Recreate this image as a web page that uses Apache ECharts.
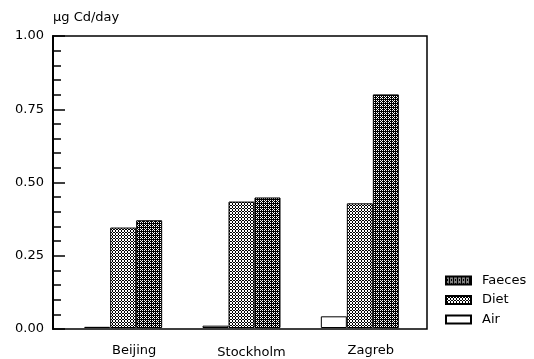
<!DOCTYPE html>
<html>
<head>
<meta charset="utf-8">
<script src="https://cdn.jsdelivr.net/npm/echarts@6/dist/echarts.min.js"></script>
<style>html,body{margin:0;padding:0;background:#fff;}#c{width:534px;height:359px;}</style>
</head>
<body>
<div id="c"></div>
<script>
var categories = ['Beijing', 'Stockholm', 'Zagreb'];
var airValues = [0.004, 0.008, 0.04];
var dietValues = [0.344, 0.433, 0.427];
var faecesValues = [0.369, 0.447, 0.80];
var yTicks = [0, 0.25, 0.5, 0.75, 1.0];
var unitLabel = 'µg Cd/day';

function makePattern(rows) {
  var h = rows.length, w = rows[0].length;
  var cv = document.createElement('canvas');
  cv.width = w; cv.height = h;
  var ctx = cv.getContext('2d');
  ctx.fillStyle = '#fff'; ctx.fillRect(0, 0, w, h);
  ctx.fillStyle = '#000';
  for (var y = 0; y < h; y++) for (var x = 0; x < w; x++) if (rows[y][x] === '#') ctx.fillRect(x, y, 1, 1);
  return { image: cv, repeat: 'repeat' };
}
var dietPattern = makePattern(['.#.', '#.#', '.#.']);
var faecesPattern = makePattern(['.#.#', '#.##', '.#.#', '####']);

var font = 'DejaVu Sans';
var chart = echarts.init(document.getElementById('c'), null, { renderer: 'canvas' });
chart.setOption({
  animation: false,
  backgroundColor: '#fff',
  textStyle: { fontFamily: font, color: '#000' },
  grid: [
    { left: 64, right: 115, top: 36, bottom: 30 },
    { left: 53, right: 107, top: 36, bottom: 30, show: true, borderColor: '#000', borderWidth: 1.5, backgroundColor: 'transparent' }
  ],
  xAxis: [
    { type: 'category', gridIndex: 0, data: categories,
      axisLine: { show: false }, axisTick: { show: false },
      axisLabel: { interval: 0, margin: 16, fontSize: 13, fontFamily: font, color: '#000',
        formatter: function (v, i) { return i === 1 ? '{b|' + v + '}' : '{a|' + v + '}'; },
        rich: {
          a: { fontSize: 13, fontFamily: font, color: '#000', padding: [0, 0, 0, 22] },
          b: { fontSize: 13, fontFamily: font, color: '#000', padding: [2, 0, 0, 20] }
        } } },
    { type: 'value', gridIndex: 1, show: false, min: 0, max: 1 }
  ],
  yAxis: [
    { type: 'value', gridIndex: 0, min: 0, max: 1, show: false },
    { type: 'value', gridIndex: 1, min: 0, max: 1, interval: 0.25,
      name: unitLabel, nameLocation: 'end', nameGap: 12,
      nameTextStyle: { align: 'left', fontSize: 13, fontFamily: font, color: '#000' },
      axisLine: { show: true, lineStyle: { color: '#000', width: 2 } },
      axisTick: { show: true, inside: true, length: 12, lineStyle: { color: '#000', width: 1.5 } },
      minorTick: { show: true, splitNumber: 5, length: 8, lineStyle: { color: '#000', width: 1.5 } },
      splitLine: { show: false },
      axisLabel: { margin: 9, fontSize: 13, fontFamily: font, color: '#000',
        formatter: function (v) { return v.toFixed(2); } } }
  ],
  legend: {
    orient: 'vertical', left: 440, top: 269,
    itemWidth: 25, itemHeight: 8, itemGap: 6.5,
    icon: 'rect',
    data: ['Faeces', 'Diet', 'Air'],
    textStyle: { fontSize: 13, fontFamily: font, color: '#000', padding: [0, 0, 0, 6] }
  },
  series: [
    { name: 'Air', type: 'bar', xAxisIndex: 0, yAxisIndex: 0, data: airValues, barWidth: 26, barGap: '0%',
      itemStyle: { color: '#fff', borderColor: '#000', borderWidth: 1 } },
    { name: 'Diet', type: 'bar', xAxisIndex: 0, yAxisIndex: 0, data: dietValues, barWidth: 26, barGap: '0%',
      itemStyle: { color: dietPattern, borderColor: '#000', borderWidth: 1 } },
    { name: 'Faeces', type: 'bar', xAxisIndex: 0, yAxisIndex: 0, data: faecesValues, barWidth: 26, barGap: '0%',
      itemStyle: { color: faecesPattern, borderColor: '#000', borderWidth: 1 } }
  ]
});
</script>
</body>
</html>
